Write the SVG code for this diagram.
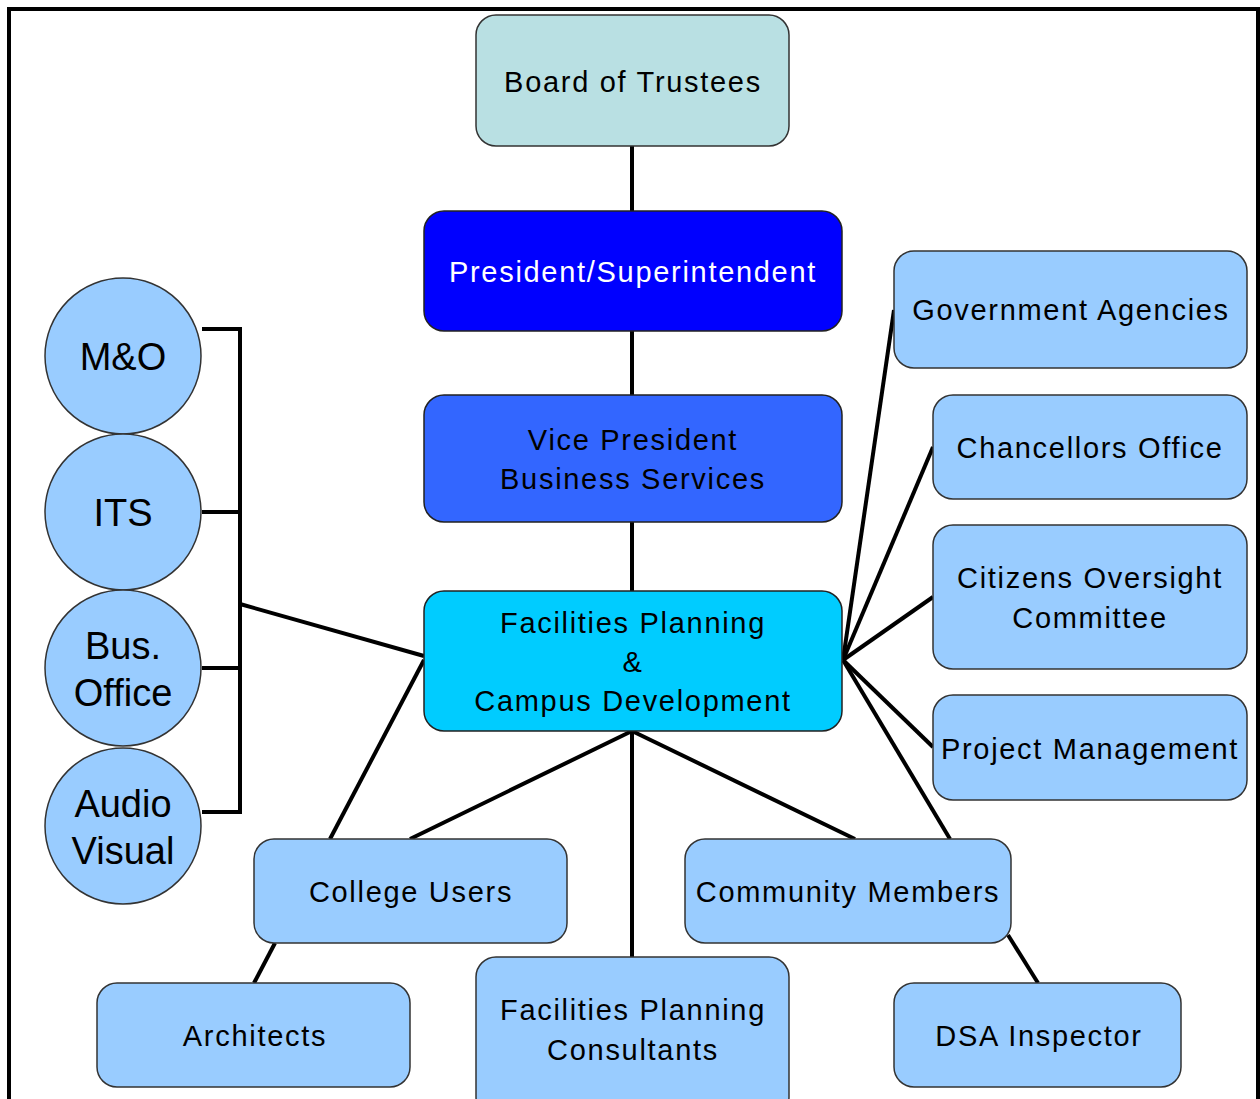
<svg xmlns="http://www.w3.org/2000/svg" width="1260" height="1099" viewBox="0 0 1260 1099">
<style>
.box{fill:#99ccff;stroke:#333;stroke-width:1.5}
.t{font-family:"Liberation Sans",Arial,sans-serif;font-size:29px;letter-spacing:1.7px;fill:#000;text-anchor:middle}
.tc{font-family:"Liberation Sans",Arial,sans-serif;font-size:38px;fill:#000;text-anchor:middle}
.w{fill:#fff}
.c{stroke:#000;stroke-width:4;fill:none}
</style>
<rect width="1260" height="1099" fill="#fff"/>
<rect x="9" y="9" width="1249" height="1200" fill="none" stroke="#000" stroke-width="4"/>
<g id="connectors">
<line class="c" x1="632" y1="146" x2="632" y2="211"/>
<line class="c" x1="632" y1="331" x2="632" y2="395"/>
<line class="c" x1="632" y1="522" x2="632" y2="591"/>
<polyline class="c" points="202,329 240,329 240,812 202,812"/>
<line class="c" x1="202" y1="512" x2="240" y2="512"/>
<line class="c" x1="202" y1="668" x2="240" y2="668"/>
<line class="c" x1="240" y1="604" x2="424" y2="656"/>
<line class="c" x1="424" y1="660" x2="330" y2="839"/>
<line class="c" x1="632" y1="731" x2="410" y2="839"/>
<line class="c" x1="632" y1="731" x2="632" y2="957"/>
<line class="c" x1="632" y1="731" x2="855" y2="839"/>
<line class="c" x1="843" y1="660" x2="950" y2="839"/>
<line class="c" x1="843" y1="660" x2="894" y2="310"/>
<line class="c" x1="843" y1="660" x2="933" y2="447"/>
<line class="c" x1="843" y1="660" x2="933" y2="597"/>
<line class="c" x1="843" y1="660" x2="933" y2="747"/>
<line class="c" x1="275" y1="943" x2="254" y2="983"/>
<line class="c" x1="1008" y1="935" x2="1038" y2="983"/>
</g>
<g id="board"><rect x="476" y="15" width="313" height="131" rx="20" fill="#b9e0e3" stroke="#333" stroke-width="1.5"/><text class="t" x="633" y="92">Board of Trustees</text></g>
<g id="president"><rect x="424" y="211" width="418" height="120" rx="20" fill="#0000ff" stroke="#222" stroke-width="1.5"/><text class="t w" x="633" y="282">President/Superintendent</text></g>
<g id="vp"><rect x="424" y="395" width="418" height="127" rx="20" fill="#3366ff" stroke="#222" stroke-width="1.5"/><text class="t" x="633" y="450">Vice President</text><text class="t" x="633" y="489">Business Services</text></g>
<g id="facilities"><rect x="424" y="591" width="418" height="140" rx="20" fill="#00ccff" stroke="#222" stroke-width="1.5"/><text class="t" x="633" y="633">Facilities Planning</text><text class="t" x="633" y="672">&amp;</text><text class="t" x="633" y="711">Campus Development</text></g>
<g id="gov"><rect class="box" x="894" y="251" width="353" height="117" rx="20"/><text class="t" x="1071" y="320">Government Agencies</text></g>
<g id="chancellors"><rect class="box" x="933" y="395" width="314" height="104" rx="20"/><text class="t" x="1090" y="458">Chancellors Office</text></g>
<g id="citizens"><rect class="box" x="933" y="525" width="314" height="144" rx="20"/><text class="t" x="1090" y="588">Citizens Oversight</text><text class="t" x="1090" y="628">Committee</text></g>
<g id="pm"><rect class="box" x="933" y="695" width="314" height="105" rx="20"/><text class="t" x="1090" y="759">Project Management</text></g>
<g id="college"><rect class="box" x="254" y="839" width="313" height="104" rx="20"/><text class="t" x="411" y="902">College Users</text></g>
<g id="community"><rect class="box" x="685" y="839" width="326" height="104" rx="20"/><text class="t" x="848" y="902">Community Members</text></g>
<g id="architects"><rect class="box" x="97" y="983" width="313" height="104" rx="20"/><text class="t" x="255" y="1046">Architects</text></g>
<g id="fpc"><rect class="box" x="476" y="957" width="313" height="160" rx="20"/><text class="t" x="633" y="1020">Facilities Planning</text><text class="t" x="633" y="1060">Consultants</text></g>
<g id="dsa"><rect class="box" x="894" y="983" width="287" height="104" rx="20"/><text class="t" x="1039" y="1046">DSA Inspector</text></g>
<g id="mo"><circle class="box" cx="123" cy="356" r="78"/><text class="tc" x="123" y="370">M&amp;O</text></g>
<g id="its"><circle class="box" cx="123" cy="512" r="78"/><text class="tc" x="123" y="526">ITS</text></g>
<g id="bus"><circle class="box" cx="123" cy="668" r="78"/><text class="tc" x="123" y="659">Bus.</text><text class="tc" x="123" y="706">Office</text></g>
<g id="av"><circle class="box" cx="123" cy="826" r="78"/><text class="tc" x="123" y="817">Audio</text><text class="tc" x="123" y="864">Visual</text></g>
</svg>
